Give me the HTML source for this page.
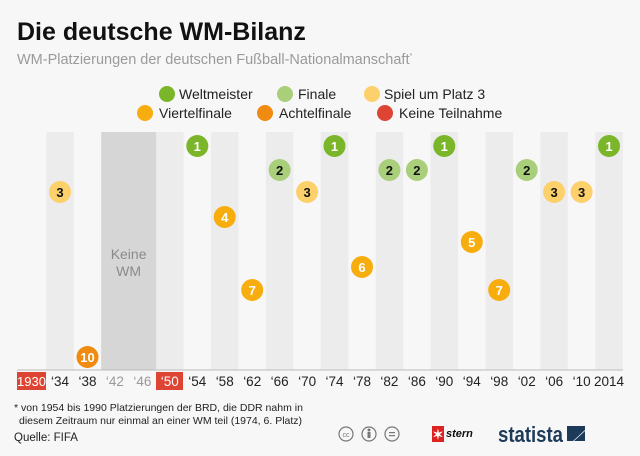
<!DOCTYPE html>
<html><head><meta charset="utf-8"><style>
html,body{margin:0;padding:0;background:#f7f7f7;}
svg{display:block;font-family:"Liberation Sans",sans-serif;}
</style></head><body>
<svg width="640" height="456" viewBox="0 0 640 456">
<rect width="640" height="456" fill="#f7f7f7"/>
<text x="17" y="40" font-size="25" font-weight="bold" fill="#111">Die deutsche WM-Bilanz</text>
<text x="17" y="64" font-size="14.5" fill="#9a9a9a">WM-Platzierungen der deutschen Fußball-Nationalmanschaft<tspan font-size="7" dy="-6">*</tspan></text>
<!-- legend -->
<g font-size="14" fill="#222">
<circle cx="167" cy="94" r="8" fill="#7ab52a"/><text x="179" y="99">Weltmeister</text>
<circle cx="285" cy="94" r="8" fill="#a9cf7a"/><text x="298" y="99">Finale</text>
<circle cx="372" cy="94" r="8" fill="#fcd06a"/><text x="384" y="99">Spiel um Platz 3</text>
<circle cx="145" cy="113" r="8" fill="#f8ad0f"/><text x="159" y="118">Viertelfinale</text>
<circle cx="265" cy="113" r="8" fill="#f08a10"/><text x="279" y="118">Achtelfinale</text>
<circle cx="385" cy="113" r="8" fill="#dd4433"/><text x="399" y="118">Keine Teilnahme</text>
</g>
<!-- column shading -->
<g fill="#ececec">
<rect x="46.3" y="132" width="27.45" height="238"/>
<rect x="156.1" y="132" width="27.45" height="238"/>
<rect x="211" y="132" width="27.45" height="238"/>
<rect x="265.9" y="132" width="27.45" height="238"/>
<rect x="320.8" y="132" width="27.45" height="238"/>
<rect x="375.7" y="132" width="27.45" height="238"/>
<rect x="430.6" y="132" width="27.45" height="238"/>
<rect x="485.5" y="132" width="27.45" height="238"/>
<rect x="540.4" y="132" width="27.45" height="238"/>
<rect x="595.3" y="132" width="27.45" height="238"/>
</g>
<rect x="101.2" y="132" width="54.9" height="238" fill="#d6d6d6"/>
<text x="128.6" y="259" font-size="14" fill="#8a8a8a" text-anchor="middle">Keine</text>
<text x="128.6" y="276" font-size="14" fill="#8a8a8a" text-anchor="middle">WM</text>
<line x1="17" y1="370" x2="623" y2="370" stroke="#bbb" stroke-width="1"/>
<!-- labels -->
<rect x="17" y="372" width="29" height="18" fill="#dd4433"/>
<rect x="156" y="372" width="27" height="18" fill="#dd4433"/>
<g font-size="13.5" text-anchor="middle" fill="#222">
<text x="31.5" y="386" fill="#fff" font-size="13">1930</text>
<text x="60" y="386">‘34</text><text x="87.5" y="386">‘38</text>
<text x="114.9" y="386" fill="#999">‘42</text><text x="142.4" y="386" fill="#999">‘46</text>
<text x="169.8" y="386" fill="#fff">‘50</text>
<text x="197.3" y="386">‘54</text><text x="224.7" y="386">‘58</text><text x="252.2" y="386">‘62</text>
<text x="279.6" y="386">‘66</text><text x="307.1" y="386">‘70</text><text x="334.5" y="386">‘74</text>
<text x="362" y="386">‘78</text><text x="389.4" y="386">‘82</text><text x="416.9" y="386">‘86</text>
<text x="444.3" y="386">‘90</text><text x="471.8" y="386">‘94</text><text x="499.2" y="386">‘98</text>
<text x="526.7" y="386">‘02</text><text x="554.1" y="386">‘06</text><text x="581.6" y="386">‘10</text>
<text x="609" y="386">2014</text>
</g>
<!-- dots -->
<g font-size="13" font-weight="bold" text-anchor="middle">
<circle cx="60" cy="192" r="11" fill="#fcd06a"/><text x="60" y="197" fill="#111">3</text>
<circle cx="87.5" cy="357" r="11" fill="#f08a10"/><text x="87.5" y="362" fill="#fff">10</text>
<circle cx="197.3" cy="146" r="11" fill="#7ab52a"/><text x="197.3" y="151" fill="#fff">1</text>
<circle cx="224.7" cy="217" r="11" fill="#f8ad0f"/><text x="224.7" y="222" fill="#fff">4</text>
<circle cx="252.2" cy="290" r="11" fill="#f8ad0f"/><text x="252.2" y="295" fill="#fff">7</text>
<circle cx="279.6" cy="170" r="11" fill="#a9cf7a"/><text x="279.6" y="175" fill="#111">2</text>
<circle cx="307.1" cy="192" r="11" fill="#fcd06a"/><text x="307.1" y="197" fill="#111">3</text>
<circle cx="334.5" cy="146" r="11" fill="#7ab52a"/><text x="334.5" y="151" fill="#fff">1</text>
<circle cx="362" cy="267" r="11" fill="#f8ad0f"/><text x="362" y="272" fill="#fff">6</text>
<circle cx="389.4" cy="170" r="11" fill="#a9cf7a"/><text x="389.4" y="175" fill="#111">2</text>
<circle cx="416.9" cy="170" r="11" fill="#a9cf7a"/><text x="416.9" y="175" fill="#111">2</text>
<circle cx="444.3" cy="146" r="11" fill="#7ab52a"/><text x="444.3" y="151" fill="#fff">1</text>
<circle cx="471.8" cy="242" r="11" fill="#f8ad0f"/><text x="471.8" y="247" fill="#fff">5</text>
<circle cx="499.2" cy="290" r="11" fill="#f8ad0f"/><text x="499.2" y="295" fill="#fff">7</text>
<circle cx="526.7" cy="170" r="11" fill="#a9cf7a"/><text x="526.7" y="175" fill="#111">2</text>
<circle cx="554.1" cy="192" r="11" fill="#fcd06a"/><text x="554.1" y="197" fill="#111">3</text>
<circle cx="581.6" cy="192" r="11" fill="#fcd06a"/><text x="581.6" y="197" fill="#111">3</text>
<circle cx="609" cy="146" r="11" fill="#7ab52a"/><text x="609" y="151" fill="#fff">1</text>
</g>
<!-- footer -->
<g font-size="10.5" fill="#222">
<text x="14" y="411">* von 1954 bis 1990 Platzierungen der BRD, die DDR nahm in</text>
<text x="19" y="424">diesem Zeitraum nur einmal an einer WM teil (1974, 6. Platz)</text>
<text x="14" y="441" font-size="11.5">Quelle: FIFA</text>
</g>
<g fill="none" stroke="#777" stroke-width="1.2">
<circle cx="346" cy="434" r="7"/><circle cx="369" cy="434" r="7"/><circle cx="392" cy="434" r="7"/>
</g>
<text x="346" y="437" font-size="7" text-anchor="middle" fill="#777">cc</text>
<circle cx="369" cy="430" r="1.5" fill="#777"/><rect x="367.5" y="432" width="3" height="6" fill="#777"/>
<rect x="389" y="432" width="6" height="1.2" fill="#777"/><rect x="389" y="435" width="6" height="1.2" fill="#777"/>
<rect x="432" y="426" width="12" height="16" fill="#dd2222"/>
<text x="438" y="439" font-size="13" fill="#fff" text-anchor="middle" font-weight="bold">✶</text>
<text x="446" y="437" font-size="11" font-weight="bold" font-style="italic" fill="#111">stern</text>
<text x="498" y="442" font-size="22" font-weight="bold" fill="#1d3a5a" textLength="65" lengthAdjust="spacingAndGlyphs">statista</text>
<polygon points="567,426 585,426 585,430 573,441 567,441" fill="#1d3a5a"/>
<polygon points="574,441 585,441 585,431" fill="#1d3a5a"/>
</svg>
</body></html>
